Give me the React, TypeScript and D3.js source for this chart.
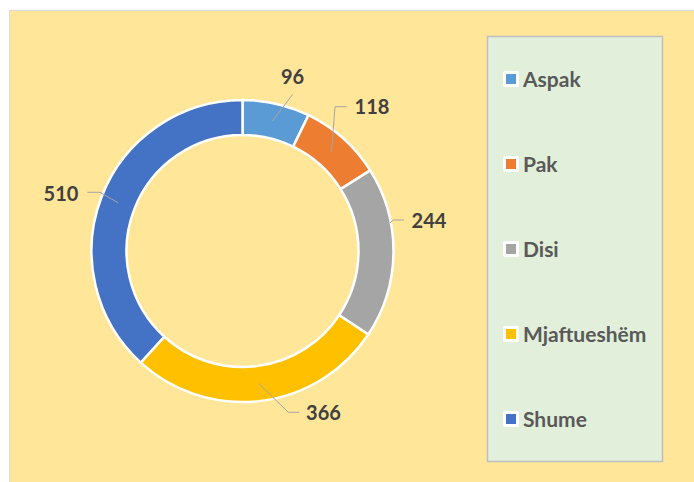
import React, { useEffect, useRef } from "react";
import * as d3 from "d3";

// chart data
const categories = ["Aspak", "Pak", "Disi", "Mjaftueshëm", "Shume"];
const values = [96, 118, 244, 366, 510];
const colors = ["#5B9BD5", "#ED7D31", "#A5A5A5", "#FFC000", "#4472C4"];

// label placement (offsets from the donut centre), like Excel's manual labels
const labelOffsets: [number, number][] = [
  [50, -174],
  [129.5, -144],
  [186.5, -30.5],
  [81, 162],
  [-181.5, -57],
];
// leader line points after the start point; null start = slice centroid
const leaderStarts: ([number, number] | null)[] = [null, null, [147.5, -28.3], null, null];
const leaderPoints: [number, number][][] = [
  [[50.2, -156.7]],
  [[92.5, -144.3], [104.2, -144.3]],
  [[150.8, -31], [161.5, -31]],
  [[45.8, 161.3], [56.8, 161.3]],
  [[-142.5, -58.7], [-155.2, -58.7]],
];

export default function App() {
  const svgRef = useRef<SVGSVGElement>(null);

  useEffect(() => {
    if (!svgRef.current) return;
    const width = 694,
      height = 482;
    const cx = 242.5,
      cy = 251;
    const outer = 151,
      inner = 116;
    const font = "Lato, 'Liberation Sans', sans-serif";

    const svg = d3.select(svgRef.current);
    svg.selectAll("*").remove();

    // chart area
    svg
      .append("rect")
      .attr("x", 9.5)
      .attr("y", 10.5)
      .attr("width", width)
      .attr("height", height)
      .attr("fill", "#FFE699")
      .attr("stroke", "#D9D9D9");

    const pie = d3
      .pie<number>()
      .sort(null)
      .value((d) => d);
    const arcs = pie(values);
    const arc = d3.arc<d3.PieArcDatum<number>>().innerRadius(inner).outerRadius(outer);

    const g = svg.append("g").attr("transform", `translate(${cx},${cy})`);

    g.selectAll("path.slice")
      .data(arcs)
      .enter()
      .append("path")
      .attr("class", "slice")
      .attr("d", arc)
      .attr("fill", (d, i) => colors[i])
      .attr("stroke", "#fff")
      .attr("stroke-width", 2.5);

    // leader lines
    const line = d3.line();
    g.selectAll("path.leader")
      .data(arcs)
      .enter()
      .append("path")
      .attr("class", "leader")
      .attr("d", (d, i) => {
        const start = leaderStarts[i] ?? (arc.centroid(d) as [number, number]);
        return line([start, ...leaderPoints[i]]);
      })
      .attr("fill", "none")
      .attr("stroke", "#A6A6A6")
      .attr("stroke-width", 1);

    // data labels
    g.selectAll("text.lbl")
      .data(arcs)
      .enter()
      .append("text")
      .attr("class", "lbl")
      .attr("x", (d, i) => labelOffsets[i][0])
      .attr("y", (d, i) => labelOffsets[i][1])
      .attr("dy", "0.36em")
      .attr("text-anchor", "middle")
      .attr("font-family", font)
      .attr("font-weight", "bold")
      .attr("font-size", 20)
      .attr("fill", "#404040")
      .text((d) => d.data);

    // legend
    svg
      .append("rect")
      .attr("x", 487.5)
      .attr("y", 36.5)
      .attr("width", 175)
      .attr("height", 425)
      .attr("fill", "#E2EFDA")
      .attr("stroke", "#BFBFBF")
      .attr("stroke-width", 1.5);

    const ly = d3.scalePoint<string>().domain(categories).range([79, 419]);
    const items = svg
      .selectAll("g.item")
      .data(categories)
      .enter()
      .append("g")
      .attr("class", "item")
      .attr("transform", (d) => `translate(511,${ly(d)})`);
    items
      .append("rect")
      .attr("x", -8)
      .attr("y", -8)
      .attr("width", 16)
      .attr("height", 16)
      .attr("rx", 2)
      .attr("fill", "#fff");
    items
      .append("rect")
      .attr("x", -5)
      .attr("y", -5)
      .attr("width", 10)
      .attr("height", 10)
      .attr("fill", (d, i) => colors[i]);
    items
      .append("text")
      .attr("x", 12)
      .attr("dy", "0.36em")
      .attr("font-family", font)
      .attr("font-weight", "bold")
      .attr("font-size", 21)
      .attr("fill", "#595959")
      .text((d) => d);
  }, []);

  return (
    <div style={{ position: "absolute", left: 0, top: 0 }}>
      <svg ref={svgRef} width={694} height={482} style={{ display: "block", background: "#fff" }} />
    </div>
  );
}
